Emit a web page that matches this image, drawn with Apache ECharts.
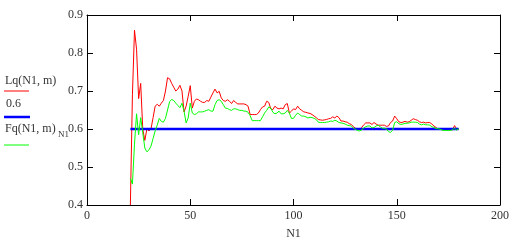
<!DOCTYPE html>
<html><head><meta charset="utf-8">
<script src="https://cdn.jsdelivr.net/npm/echarts@6/dist/echarts.min.js"></script>
<style>html,body{margin:0;padding:0;background:#fff}#c{width:518px;height:245px}</style>
</head><body><div id="c"></div>
<script>
// N1 runs from n1Start upward, one value per integer N1
const n1Start = 21;
const lqValues = [
0.40,0.69,0.86,0.81,0.68,0.72,0.60,0.57,0.60,0.595,
0.60,0.63,0.66,0.665,0.66,0.668,0.675,0.70,0.735,0.732,
0.72,0.71,0.70,0.705,0.715,0.70,0.645,0.66,0.686,0.714,
0.655,0.673,0.679,0.677,0.673,0.670,0.670,0.675,0.673,0.684,
0.695,0.705,0.695,0.699,0.682,0.675,0.673,0.677,0.673,0.667,
0.675,0.670,0.666,0.666,0.666,0.666,0.664,0.660,0.638,0.638,
0.638,0.638,0.642,0.651,0.658,0.660,0.673,0.670,0.653,0.651,
0.660,0.655,0.653,0.655,0.653,0.664,0.667,0.642,0.647,0.653,
0.651,0.660,0.653,0.649,0.645,0.644,0.642,0.641,0.638,0.634,
0.630,0.625,0.624,0.623,0.624,0.625,0.627,0.628,0.632,0.629,
0.634,0.630,0.621,0.621,0.619,0.618,0.614,0.612,0.606,0.602,
0.599,0.599,0.604,0.611,0.616,0.616,0.616,0.612,0.617,0.613,
0.610,0.610,0.610,0.610,0.607,0.608,0.617,0.621,0.634,0.627,
0.619,0.617,0.618,0.620,0.618,0.619,0.623,0.627,0.625,0.623,
0.619,0.617,0.618,0.616,0.617,0.617,0.613,0.608,0.604,0.600,
0.599,0.598,0.598,0.598,0.598,0.598,0.598,0.609,0.600,0.600
];
const fqValues = [
0.47,0.455,0.56,0.64,0.585,0.63,0.59,0.55,0.54,0.545,
0.555,0.575,0.595,0.61,0.628,0.62,0.618,0.628,0.65,0.672,
0.678,0.675,0.668,0.662,0.656,0.668,0.647,0.616,0.629,0.668,
0.642,0.638,0.640,0.645,0.645,0.645,0.647,0.649,0.651,0.647,
0.647,0.664,0.675,0.677,0.673,0.664,0.655,0.654,0.651,0.649,
0.653,0.653,0.651,0.649,0.649,0.647,0.647,0.644,0.635,0.622,
0.622,0.622,0.622,0.622,0.632,0.642,0.649,0.658,0.655,0.644,
0.640,0.642,0.647,0.640,0.640,0.642,0.649,0.642,0.628,0.628,
0.636,0.642,0.638,0.634,0.634,0.632,0.629,0.631,0.630,0.628,
0.625,0.618,0.617,0.617,0.617,0.618,0.619,0.621,0.620,0.623,
0.621,0.617,0.616,0.615,0.613,0.610,0.609,0.608,0.602,0.599,
0.596,0.595,0.597,0.603,0.606,0.608,0.608,0.603,0.604,0.608,
0.610,0.606,0.602,0.602,0.600,0.593,0.591,0.597,0.617,0.619,
0.614,0.612,0.613,0.615,0.615,0.616,0.618,0.618,0.618,0.617,
0.613,0.611,0.613,0.611,0.611,0.610,0.606,0.604,0.601,0.601,
0.599,0.597,0.596,0.596,0.596,0.596,0.598,0.602,0.597,0.601
];
const constValue = 0.6;
const constN1 = [21, 180];
const legendLabels = ['Lq(N1, m)', '0.6', 'Fq(N1, m)', 'N1'];
const xAxisName = 'N1';

const lqData = lqValues.map((v, i) => [n1Start + i, v]);
const fqData = fqValues.map((v, i) => [n1Start + i, v]);
const constData = constN1.map(n => [n, constValue]);

const FONT = '"Liberation Serif", "Times New Roman", serif';
const axisCommon = {
  axisLine: { show: true, onZero: false, lineStyle: { color: '#000', width: 1 } },
  axisTick: { show: true, inside: true, length: 6, lineStyle: { color: '#000', width: 1 } },
  splitLine: { show: false }
};

const chart = echarts.init(document.getElementById('c'), null, { renderer: 'canvas' });
chart.setOption({
  animation: false,
  backgroundColor: '#fff',
  grid: { left: 87, right: 18, top: 15, bottom: 39, containLabel: false },
  xAxis: [
    Object.assign({ type: 'value', min: 0, max: 200, interval: 50, position: 'bottom',
      axisLabel: { color: '#333', fontFamily: FONT, fontSize: 12, margin: 5 },
      name: xAxisName, nameLocation: 'middle', nameGap: 23,
      nameTextStyle: { color: '#333', fontFamily: FONT, fontSize: 12 } }, axisCommon),
    Object.assign({ type: 'value', min: 0, max: 200, interval: 50, position: 'top',
      axisLabel: { show: false } }, axisCommon)
  ],
  yAxis: [
    Object.assign({ type: 'value', min: 0.4, max: 0.9, interval: 0.1, position: 'left',
      axisLabel: { color: '#333', fontFamily: FONT, fontSize: 12, margin: 4,
        formatter: v => v.toFixed(1) } }, axisCommon),
    Object.assign({ type: 'value', min: 0.4, max: 0.9, interval: 0.1, position: 'right',
      axisLabel: { show: false } }, axisCommon)
  ],
  series: [
    { type: 'line', name: legendLabels[0], data: lqData, showSymbol: false, clip: true,
      lineStyle: { color: '#ff0000', width: 1 }, itemStyle: { color: '#ff0000' }, z: 2 },
    { type: 'line', name: legendLabels[1], data: constData, showSymbol: false, clip: true,
      lineStyle: { color: '#0000ff', width: 2.5 }, itemStyle: { color: '#0000ff' }, z: 3 },
    { type: 'line', name: legendLabels[2], data: fqData, showSymbol: false, clip: true,
      lineStyle: { color: '#00ff00', width: 1 }, itemStyle: { color: '#00ff00' }, z: 4 }
  ],
  graphic: [
    { type: 'text', left: 5, top: 75, style: { text: legendLabels[0], font: '12px ' + FONT, fill: '#333' } },
    { type: 'line', shape: { x1: 4, y1: 91, x2: 29, y2: 91 }, style: { stroke: '#ff0000', lineWidth: 1 } },
    { type: 'text', left: 6, top: 98, style: { text: legendLabels[1], font: '12px ' + FONT, fill: '#333' } },
    { type: 'line', shape: { x1: 4, y1: 117, x2: 30, y2: 117 }, style: { stroke: '#0000ff', lineWidth: 2.5 } },
    { type: 'text', left: 5, top: 123, style: { text: legendLabels[2], font: '12px ' + FONT, fill: '#333' } },
    { type: 'text', left: 58, top: 130, style: { text: legendLabels[3], font: '9px ' + FONT, fill: '#333' } },
    { type: 'line', shape: { x1: 4, y1: 145, x2: 29, y2: 145 }, style: { stroke: '#00ff00', lineWidth: 1 } }
  ]
});
</script>
</body></html>
